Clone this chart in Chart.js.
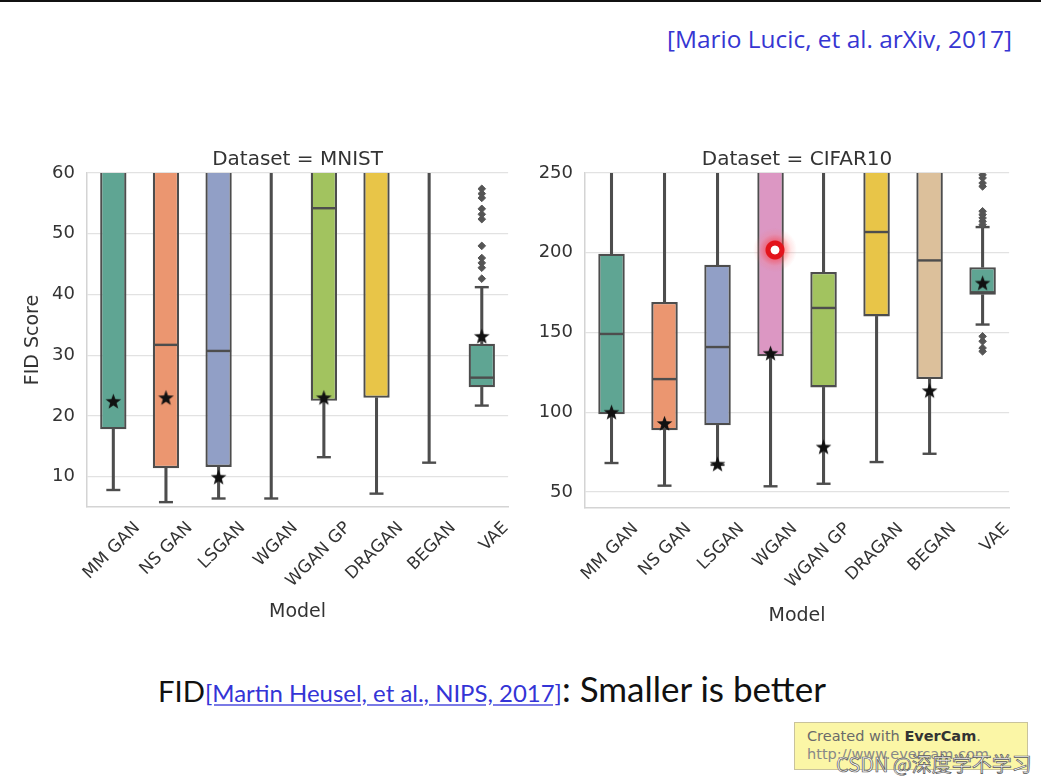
<!DOCTYPE html>
<html>
<head>
<meta charset="utf-8">
<script src="https://cdn.jsdelivr.net/npm/chart.js@4.4.0/dist/chart.umd.min.js"></script>
<style>
  html, body { margin: 0; padding: 0; background: #fff; }
  body { width: 1041px; height: 782px; position: relative; overflow: hidden; }
  .abs { position: absolute; }
  .fit { white-space: nowrap; display: inline-block; }
  #topline { left: 0; top: 0; width: 1041px; height: 2px; background: #111; }
  #cite { left: 667px; top: 22px; color: #3636d2; font-family: "Open Sans"; }
  #bottom { left: 158px; top: 668px; line-height: 40px; font-family: Lato; color: #111; }
  #bottom .ref { color: #3434d6; text-decoration: underline; text-decoration-color: #7a7ae6; }
  #evercam { left: 794px; top: 722px; width: 232px; height: 46px; background: #fbf6a6; border: 1px solid #c9c39c; font-family: "DejaVu Sans"; font-size: 14.5px; color: #6a6a6a; }
  #csdn { left: 836px; top: 749px; font-family: "Noto Sans CJK SC"; font-size: 20px; color: #f6f6f6; -webkit-text-stroke: 0.7px #555; }
  #cursor { left: 753px; top: 228px; width: 44px; height: 44px; border-radius: 50%;
    background: radial-gradient(circle, #fff 0 4px, #e3141c 4.8px 9px, rgba(255,60,60,0.45) 10px, rgba(255,120,120,0.18) 16px, rgba(255,160,160,0) 22px); }
</style>
</head>
<body>
<div id="topline" class="abs"></div>
<div id="cite" class="abs"><span class="fit" data-w="345">[Mario Lucic, et al. arXiv, 2017]</span></div>

<div class="abs" style="left:0;top:138px;width:523px;height:489px;"><canvas id="mnist"></canvas></div>
<div class="abs" style="left:520px;top:138px;width:504px;height:491px;"><canvas id="cifar"></canvas></div>

<div id="bottom" class="abs"><span class="fit" data-w="47">FID</span><span class="fit ref" data-w="357">[Martin Heusel, et al., NIPS, 2017]</span><span class="fit" data-w="264">: Smaller is better</span></div>

<div id="evercam" class="abs">
  <div style="margin:5px 0 0 12px;">Created with <b style="color:#333">EverCam</b>.</div>
  <div style="margin:2px 0 0 12px;color:#888;">http://www.evercam.com</div>
</div>
<div id="csdn" class="abs">CSDN @深度学不学习</div>
<div id="cursor" class="abs"></div>

<script>
const models = ['MM GAN', 'NS GAN', 'LSGAN', 'WGAN', 'WGAN GP', 'DRAGAN', 'BEGAN', 'VAE'];
const boxColors = ['#5fa593', '#eb9670', '#919fc6', '#dc97c3', '#a2c35f', '#e8c548', '#dcc09b', '#5fa593'];

// MNIST -- anything above 60 is off the visible axis, rough guesses
const mnistLow  = [7.8, 5.8, 6.4, 6.4, 13.2, 7.2, 12.3, 21.7];
const mnistQ1   = [17.8, 11.4, 11.6, 64, 22.5, 23.0, 66, 24.7];
const mnistMed  = [68, 31.7, 30.7, 90, 54.2, 75, 95, 26.3];
const mnistQ3   = [95, 85, 80, 130, 75, 110, 140, 31.9];
const mnistHigh = [150, 130, 120, 200, 100, 160, 200, 41.2];
const mnistBest = [22.4, 23.0, 9.9, null, 23.0, null, null, 33.1];
const mnistVaeOutliers = [57.4, 56.6, 55.9, 54.1, 53.2, 52.4, 48.0, 46.0, 45.2, 44.4, 42.6];

// CIFAR10 -- anything above 250 is a guess
const cifarLow  = [68.2, 54.0, 67.0, 53.6, 55.2, 68.8, 74.0, 155.0];
const cifarQ1   = [98.7, 88.7, 91.8, 135.1, 115.6, 160.1, 120.8, 173.7];
const cifarMed  = [149.1, 120.8, 140.9, 265, 165.4, 213.0, 195.2, 175.2];
const cifarQ3   = [199.4, 169.1, 192.5, 290, 187.9, 270, 265, 190.9];
const cifarHigh = [300, 280, 290, 340, 270, 330, 320, 216.1];
const cifarBest = [100.0, 93.0, 67.5, 137.0, 78.2, null, 113.5, 181.0];
const cifarVaeOutliers = [248.9, 246.9, 243.7, 241.6, 226.0, 223.9, 221.8, 219.7, 217.6, 147.6, 144.5, 140.3, 138.2];

const mnistTicks = [10, 20, 30, 40, 50, 60];
const cifarTicks = [50, 100, 150, 200, 250];

// filled star marker
const star = document.createElement('canvas');
star.width = 17; star.height = 17;
(function () {
  const c = star.getContext('2d');
  c.beginPath();
  for (let i = 0; i < 10; i++) {
    const r = i % 2 ? 3.4 : 8.2;
    const a = -Math.PI / 2 + i * Math.PI / 5;
    c.lineTo(8.5 + r * Math.cos(a), 9 + r * Math.sin(a));
  }
  c.closePath();
  c.fillStyle = '#111';
  c.fill();
})();

const edge = '#4d4d4d';

function boxplotSets(low, q1, med, q3, high, best, outliers) {
  const pairs = (a, b) => a.map((v, i) => [v, b[i]]);
  const bar = { type: 'bar', grouped: false, categoryPercentage: 1, clip: 0 };
  const pts = (data, style, radius, width, order, color) => ({
    type: 'line', data, showLine: false, pointStyle: style,
    pointRadius: radius, pointHoverRadius: radius, pointBorderWidth: width,
    pointBorderColor: color || edge, pointBackgroundColor: color || edge, order, clip: 0
  });
  return [
    { ...bar, data: pairs(low, q1), backgroundColor: edge, barThickness: 2.4, order: 6 },
    { ...bar, data: pairs(q3, high), backgroundColor: edge, barThickness: 2.4, order: 6 },
    { ...bar, data: pairs(q1, q3), backgroundColor: boxColors, borderColor: edge,
      borderWidth: 2.3, borderSkipped: false, barPercentage: 0.5, order: 5 },
    pts(med, 'line', 12.5, 2.4, 4),
    pts(low, 'line', 7, 2.4, 4),
    pts(high, 'line', 7, 2.4, 4),
    pts(outliers.map(v => ({ x: 'VAE', y: v })), 'rectRot', 3.8, 1, 2, '#555'),
    pts(best, star, 7, 0, 1)
  ];
}

function options(title, yMin, yMax, ticks, yWidth, yTitle, xHeight, xTitlePad) {
  return {
    responsive: true,
    maintainAspectRatio: false,
    animation: false,
    events: [],
    layout: { padding: 0 },
    plugins: { legend: { display: false }, tooltip: { enabled: false } },
    scales: {
      x: {
        offset: true,
        grid: { display: false },
        border: { display: true, color: '#d4d4d4', width: 1.5 },
        ticks: { minRotation: 45, maxRotation: 45, autoSkip: false, labelOffset: 24, padding: 3, color: '#333', font: { size: 17 } },
        title: { display: true, text: 'Model', color: '#333', font: { size: 19 }, padding: { top: 0, bottom: xTitlePad } },
        afterFit: s => { s.height = xHeight; }
      },
      // facet title sits on an empty top axis so it centres over the plot area
      facet: {
        axis: 'x',
        position: 'top',
        offset: true,
        grid: { display: false },
        border: { display: false },
        ticks: { display: false },
        title: { display: true, text: title, color: '#333', font: { size: 20 }, padding: { top: 10, bottom: 0 } },
        afterFit: s => { s.height = 35; }
      },
      y: {
        min: yMin,
        max: yMax,
        afterBuildTicks: s => { s.ticks = ticks.map(v => ({ value: v })); },
        ticks: { padding: 12, color: '#333', font: { size: 18 } },
        grid: { color: '#e2e2e2', lineWidth: 1.3, drawTicks: false },
        border: { display: true, color: '#d4d4d4', width: 1.5 },
        title: { display: !!yTitle, text: yTitle, color: '#333', font: { size: 19 }, padding: { top: 22, bottom: 0 } },
        afterFit: s => { s.width = yWidth; }
      }
    }
  };
}

Chart.defaults.font.family = '"DejaVu Sans"';

new Chart(document.getElementById('mnist'), {
  type: 'bar',
  data: { labels: models, datasets: boxplotSets(mnistLow, mnistQ1, mnistMed, mnistQ3, mnistHigh, mnistBest, mnistVaeOutliers) },
  options: options('Dataset = MNIST', 5, 60, mnistTicks, 87, 'FID Score', 120, 4)
});

new Chart(document.getElementById('cifar'), {
  type: 'bar',
  data: { labels: models, datasets: boxplotSets(cifarLow, cifarQ1, cifarMed, cifarQ3, cifarHigh, cifarBest, cifarVaeOutliers) },
  options: options('Dataset = CIFAR10', 40, 250, cifarTicks, 65, '', 121, 2)
});

// size the slide text to the widths in the picture
document.querySelectorAll('.fit').forEach(el => {
  el.style.fontSize = '100px';
  const w = el.getBoundingClientRect().width;
  el.style.fontSize = (100 * Number(el.dataset.w) / w).toFixed(2) + 'px';
});
</script>
</body>
</html>
